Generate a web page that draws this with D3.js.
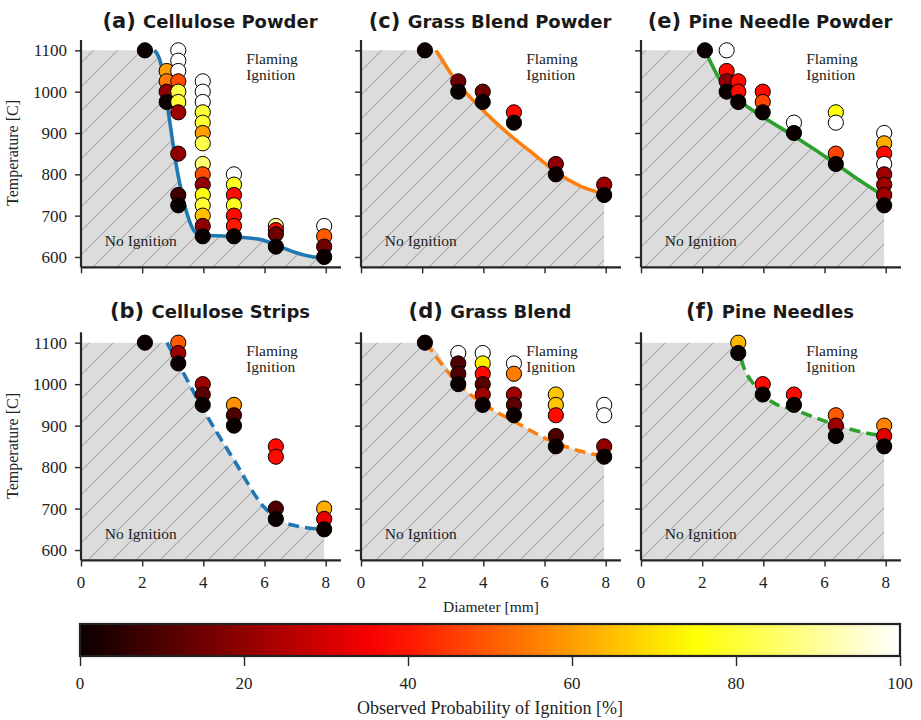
<!DOCTYPE html>
<meta charset="utf-8">
<head>
<style>
    body {margin: 0; background: #fff;}
    .serif {font-family: "Liberation Serif", "Times New Roman", serif;}
</style>
<script src="https://d3js.org/d3.v7.min.js"></script>
</head>
<body>
<div id="chart"></div>
<script>

// points: [diameter mm, temperature C, observed probability of ignition 0..1]
var cellPowderPts = [
    [2.09,1100,0],
    [2.8,1050,0.6],[2.8,1025,0.55],[2.8,1000,0.2],[2.8,975,0],
    [3.18,1100,1],[3.18,1075,1],[3.18,1050,1],[3.18,1025,0.48],[3.18,1000,0.82],[3.18,975,0.8],[3.18,950,0.22],[3.18,850,0.2],[3.18,750,0.08],[3.18,725,0],
    [3.98,1025,1],[3.98,1000,1],[3.98,975,1],[3.98,950,0.8],[3.98,925,0.8],[3.98,900,0.6],[3.98,875,0.82],[3.98,825,0.86],[3.98,800,0.48],[3.98,775,0.2],[3.98,750,0.76],[3.98,725,0.8],[3.98,700,0.65],[3.98,675,0.2],[3.98,650,0],
    [5.0,800,1],[5.0,775,0.78],[5.0,750,0.38],[5.0,725,0.78],[5.0,700,0.38],[5.0,675,0.4],[5.0,650,0],
    [6.37,675,0.9],[6.37,665,0.38],[6.37,655,0.15],[6.37,625,0],
    [7.95,675,1],[7.95,650,0.5],[7.95,625,0.15],[7.95,600,0]
];
var cellPowderEdge = [[2.40,1100],[2.61,1068],[2.78,988],[2.94,908],[3.10,828],[3.27,763],[3.49,699],[3.70,663],[3.92,653],[4.79,650],[5.88,642],[6.43,627],[6.96,612],[7.61,600],[7.95,598]];

var cellStripPts = [
    [2.09,1100,0],
    [3.18,1100,0.5],[3.18,1075,0.22],[3.18,1050,0],
    [3.98,1000,0.22],[3.98,975,0.12],[3.98,950,0],
    [5.0,950,0.58],[5.0,925,0.1],[5.0,900,0],
    [6.37,850,0.38],[6.37,825,0.38],[6.37,700,0.1],[6.37,675,0],
    [7.95,700,0.62],[7.95,675,0.33],[7.95,650,0]
];
var cellStripEdge = [[2.81,1100],[3.18,1050],[3.98,941],[5.01,816],[5.99,703],[6.43,675],[7.19,656],[7.95,650]];

var grassPowderPts = [
    [2.09,1100,0],
    [3.18,1025,0.15],[3.18,1000,0],
    [3.98,1000,0.15],[3.98,975,0],
    [5.0,950,0.38],[5.0,925,0],
    [6.37,825,0.2],[6.37,800,0],
    [7.95,775,0.22],[7.95,750,0]
];
var grassPowderEdge = [[2.45,1100],[3.16,1021],[3.92,960],[4.79,900],[5.66,848],[6.42,803],[7.19,771],[7.95,753]];

var grassPts = [
    [2.09,1100,0],
    [3.18,1075,1],[3.18,1050,0.1],[3.18,1025,0.1],[3.18,1000,0],
    [3.98,1075,1],[3.98,1050,0.72],[3.98,1025,0.38],[3.98,1000,0.12],[3.98,975,0.22],[3.98,950,0],
    [5.0,1050,1],[5.0,1025,0.55],[5.0,975,0.22],[5.0,950,0.12],[5.0,925,0],
    [6.37,975,0.66],[6.37,950,0.66],[6.37,925,0.38],[6.37,875,0.1],[6.37,850,0],
    [7.95,950,1],[7.95,925,1],[7.95,850,0.2],[7.95,825,0]
];
var grassEdge = [[2.12,1100],[3.16,1003],[4.03,951],[5.01,910],[6.37,858],[7.19,838],[7.95,826]];

var pinePowderPts = [
    [2.09,1100,0],
    [2.8,1100,1],[2.8,1050,0.38],[2.8,1025,0.2],[2.8,1000,0],
    [3.18,1025,0.38],[3.18,1000,0.38],[3.18,975,0],
    [3.98,1000,0.38],[3.98,975,0.47],[3.98,950,0],
    [5.0,925,1],[5.0,900,0],
    [6.37,950,0.76],[6.37,925,1],[6.37,850,0.47],[6.37,825,0],
    [7.95,900,1],[7.95,875,0.62],[7.95,850,0.38],[7.95,825,1],[7.95,800,0.22],[7.95,775,0.22],[7.95,750,0.22],[7.95,725,0]
];
var pinePowderEdge = [[2.09,1100],[2.61,1025],[3.38,969],[3.98,939],[5.01,892],[6.32,828],[7.19,783],[7.95,747]];

var pinePts = [
    [3.18,1100,0.64],[3.18,1075,0],
    [3.98,1000,0.38],[3.98,975,0],
    [5.0,975,0.38],[5.0,950,0],
    [6.37,925,0.5],[6.37,900,0.22],[6.37,875,0],
    [7.95,900,0.56],[7.95,875,0.32],[7.95,850,0]
];
var pineEdge = [[3.18,1100],[3.27,1063],[3.7,998],[4.36,954],[5.01,938],[6.37,902],[7.19,885],[7.95,875]];

var panelTags = ["(a)", "(b)", "(c)", "(d)", "(e)", "(f)"];
var panelNames = ["Cellulose Powder", "Cellulose Strips", "Grass Blend Powder", "Grass Blend", "Pine Needle Powder", "Pine Needles"];
var xTicks = [0, 2, 4, 6, 8];
var yTicks = [600, 700, 800, 900, 1000, 1100];
var cbTicks = [0, 20, 40, 60, 80, 100];

var panels = [
    {pts: cellPowderPts, edge: cellPowderEdge, col: 0, row: 0, color: "#1f77b4", dash: null},
    {pts: cellStripPts, edge: cellStripEdge, col: 0, row: 1, color: "#1f77b4", dash: "11,6"},
    {pts: grassPowderPts, edge: grassPowderEdge, col: 1, row: 0, color: "#ff7f0e", dash: null},
    {pts: grassPts, edge: grassEdge, col: 1, row: 1, color: "#ff7f0e", dash: "11,6"},
    {pts: pinePowderPts, edge: pinePowderEdge, col: 2, row: 0, color: "#2ca02c", dash: null},
    {pts: pinePts, edge: pineEdge, col: 2, row: 1, color: "#2ca02c", dash: "11,6"}
];

var width = 921, height = 720;
var colX = [81, 361, 641];
var rowY = [[267.3, 40], [560.4, 332.3]];
var axisColor = "#262626";

// matplotlib "hot"
var hot = d3.scaleLinear()
    .domain([0, 0.365, 0.746, 1])
    .range(["#0b0000", "#ff0000", "#ffff00", "#ffffff"])
    .interpolate(d3.interpolateRgb)
    .clamp(true);

var svg = d3.select("#chart").append("svg")
    .attr("width", width)
    .attr("height", height);

var defs = svg.append("defs");
var pat = defs.append("pattern")
    .attr("id", "hatch")
    .attr("patternUnits", "userSpaceOnUse")
    .attr("width", 24).attr("height", 24);
pat.append("rect").attr("width", 24).attr("height", 24).attr("fill", "#dcdcdc");
pat.append("path")
    .attr("d", "M-6,6 L6,-6 M0,24 L24,0 M18,30 L30,18")
    .attr("stroke", "#ababab")
    .attr("stroke-width", 1.1);

// tick labels as plain serif text so the font is certain
function tickLabels(parent, vals, fx, fy, anchor, size) {
    parent.selectAll(null)
        .data(vals)
        .enter().append("text")
        .attr("class", "serif")
        .attr("x", fx)
        .attr("y", fy)
        .attr("text-anchor", anchor)
        .attr("font-size", size)
        .attr("fill", "#222")
        .text(function(d) { return d; });
}

panels.forEach(function(p, i) {
    var x = d3.scaleLinear().domain([0, 8.5]).range([colX[p.col], colX[p.col] + 260]);
    var y = d3.scaleLinear().domain([575, 1125]).range(rowY[p.row]);
    var g = svg.append("g");

    // no-ignition region
    var shadePts = [[0, 1100]].concat(p.edge);
    var area = d3.area()
        .x(function(d) { return x(d[0]); })
        .y0(y(575))
        .y1(function(d) { return y(d[1]); })
        .curve(d3.curveMonotoneX);
    g.append("path")
        .datum(shadePts)
        .attr("d", area)
        .attr("fill", "url(#hatch)");

    // boundary curve
    var line = d3.line()
        .x(function(d) { return x(d[0]); })
        .y(function(d) { return y(d[1]); })
        .curve(d3.curveMonotoneX);
    g.append("path")
        .datum(p.edge)
        .attr("d", line)
        .attr("fill", "none")
        .attr("stroke", p.color)
        .attr("stroke-width", 3.6)
        .attr("stroke-dasharray", p.dash);

    // region labels
    g.append("text").attr("class", "serif")
        .attr("x", x(5.4)).attr("y", y(1067))
        .attr("font-size", 15.5).attr("fill", "#222")
        .text("Flaming");
    g.append("text").attr("class", "serif")
        .attr("x", x(5.4)).attr("y", y(1029))
        .attr("font-size", 15.5).attr("fill", "#222")
        .text("Ignition");
    g.append("text").attr("class", "serif")
        .attr("x", x(0.78)).attr("y", y(626))
        .attr("font-size", 15.5).attr("fill", "#222")
        .text("No Ignition");

    // observations, lower temps drawn on top
    var pts = p.pts.slice().sort(function(a, b) { return b[1] - a[1]; });
    g.selectAll("circle")
        .data(pts)
        .enter().append("circle")
        .attr("cx", function(d) { return x(d[0]); })
        .attr("cy", function(d) { return y(d[1]); })
        .attr("r", 7.6)
        .attr("fill", function(d) { return hot(d[2]); })
        .attr("stroke", "#000")
        .attr("stroke-width", 1);

    // axes (lines from d3.axis, labels added below)
    var xAxis = d3.axisBottom(x).tickValues(xTicks).tickSize(6).tickFormat("");
    var gx = g.append("g")
        .attr("transform", "translate(0," + y(575) + ")")
        .call(xAxis);
    var yAxis = d3.axisLeft(y).tickValues(yTicks).tickSize(6).tickFormat("");
    var gy = g.append("g")
        .attr("transform", "translate(" + x(0) + ",0)")
        .call(yAxis);
    [gx, gy].forEach(function(a) {
        a.select(".domain").attr("stroke", axisColor).attr("stroke-width", 2.2);
        a.selectAll(".tick line").attr("stroke", axisColor).attr("stroke-width", 1.4);
    });
    gx.select(".domain").attr("d", "M" + x(0) + ",0H" + x(8.5));
    gy.select(".domain").attr("d", "M0," + y(575) + "V" + y(1125));

    if (p.row == 1) {
        tickLabels(g, xTicks, function(d) { return x(d); }, y(575) + 28, "middle", 17);
    }
    if (p.col == 0) {
        tickLabels(g, yTicks, x(0) - 14, function(d) { return y(d) + 6; }, "end", 17);
    }

    // title
    var t = svg.append("text")
        .attr("x", x(4.25) - 1)
        .attr("y", p.row == 0 ? 28 : 318)
        .attr("text-anchor", "middle")
        .attr("font-family", "DejaVu Sans, sans-serif")
        .attr("font-weight", "bold")
        .attr("fill", "#1a1a1a");
    t.append("tspan").attr("font-size", 21).text(panelTags[i] + " ");
    t.append("tspan").attr("font-size", 18).text(panelNames[i]);
});

// shared axis labels
[153, 446].forEach(function(cy) {
    svg.append("text").attr("class", "serif")
        .attr("transform", "translate(18," + cy + ") rotate(-90)")
        .attr("text-anchor", "middle")
        .attr("font-size", 16)
        .attr("fill", "#222")
        .text("Temperature [C]");
});
svg.append("text").attr("class", "serif")
    .attr("x", 491).attr("y", 612)
    .attr("text-anchor", "middle")
    .attr("font-size", 15.5)
    .attr("fill", "#222")
    .text("Diameter [mm]");

// colorbar
var cbX = d3.scaleLinear().domain([0, 100]).range([80, 900]);
var grad = defs.append("linearGradient").attr("id", "hotgrad")
    .attr("x1", "0%").attr("x2", "100%").attr("y1", "0%").attr("y2", "0%");
d3.range(0, 1.0001, 0.05).forEach(function(v) {
    grad.append("stop").attr("offset", (v * 100) + "%").attr("stop-color", hot(v));
});
svg.append("rect")
    .attr("x", cbX(0)).attr("y", 624)
    .attr("width", cbX(100) - cbX(0)).attr("height", 32)
    .attr("fill", "url(#hotgrad)")
    .attr("stroke", "#222").attr("stroke-width", 2.2);
var cbAxis = d3.axisBottom(cbX).tickValues(cbTicks).tickSize(10).tickFormat("");
var gcb = svg.append("g").attr("transform", "translate(0,656)").call(cbAxis);
gcb.select(".domain").remove();
gcb.selectAll(".tick line").attr("stroke", axisColor).attr("stroke-width", 1.4);
tickLabels(svg, cbTicks, function(d) { return cbX(d); }, 689, "middle", 17);
svg.append("text").attr("class", "serif")
    .attr("x", 490).attr("y", 714)
    .attr("text-anchor", "middle")
    .attr("font-size", 18)
    .attr("fill", "#222")
    .text("Observed Probability of Ignition [%]");

</script>
</body>
